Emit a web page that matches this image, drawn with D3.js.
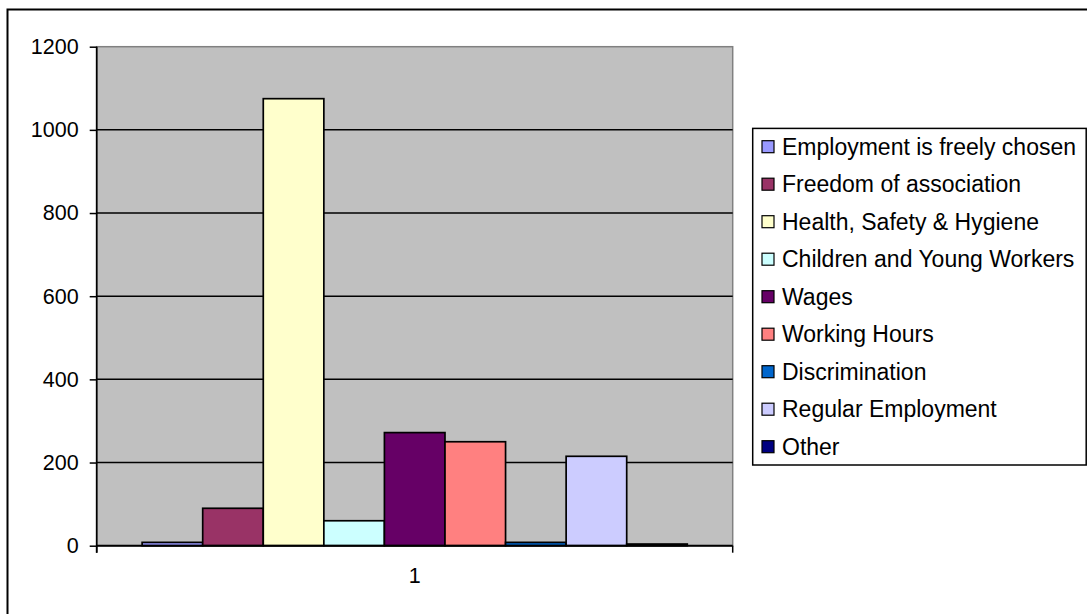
<!DOCTYPE html>
<html><head><meta charset="utf-8">
<script src="https://cdn.jsdelivr.net/npm/d3@7"></script>
<style>body{margin:0;background:#fff;} svg{display:block;font-family:"Liberation Sans",Arial,sans-serif;}</style>
</head><body>
<svg id="c" width="1087" height="614"></svg>
<script>
const categories = ["1"];
const seriesNames = ["Employment is freely chosen","Freedom of association","Health, Safety & Hygiene","Children and Young Workers","Wages","Working Hours","Discrimination","Regular Employment","Other"];
const seriesValues = [8, 90, 1075, 60, 272, 250, 8, 215, 4];
const seriesColors = ["#9999FF","#993366","#FFFFCC","#CCFFFF","#660066","#FF8080","#0066CC","#CCCCFF","#000080"];
const yTicks = [0, 200, 400, 600, 800, 1000, 1200];

const svg = d3.select("#c");
const L = 96.7, R = 732.7, T = 46.7, B = 545.7;

// outer frame
svg.append("rect").attr("x",7.5).attr("y",9.5).attr("width",1100).attr("height",640)
  .attr("fill","#fff").attr("stroke","#000").attr("stroke-width",2);

const y = d3.scaleLinear().domain([0,1200]).range([B,T]);
const x0 = d3.scaleBand().domain(categories).range([L,R]).paddingInner(0).paddingOuter(0);

// plot background
svg.append("rect").attr("x",L).attr("y",T).attr("width",R-L).attr("height",B-T)
  .attr("fill","#C0C0C0").attr("stroke","#808080").attr("stroke-width",1.5);

// gridlines
svg.append("g").selectAll("line").data(yTicks.filter(d=>d>0 && d<1200)).join("line")
  .attr("x1",L).attr("x2",R).attr("y1",d=>y(d)).attr("y2",d=>y(d))
  .attr("stroke","#000").attr("stroke-width",1.5);

// bars (gap width 150% of bar width)
categories.forEach(cat=>{
  const c0 = x0(cat), cw = x0.bandwidth();
  const bw = cw/10.5;
  const xs = d3.scaleBand().domain(seriesNames).range([c0+0.75*bw, c0+cw-0.75*bw]).padding(0);
  svg.append("g").selectAll("rect").data(seriesValues).join("rect")
    .attr("x",(d,i)=>xs(seriesNames[i]))
    .attr("y",d=>y(d))
    .attr("width",xs.bandwidth())
    .attr("height",d=>B-y(d))
    .attr("fill",(d,i)=>seriesColors[i])
    .attr("stroke","#000").attr("stroke-width",1.7);
});

// y axis
const yAxis = d3.axisLeft(y).tickValues(yTicks).tickSize(7).tickPadding(11).tickFormat(d3.format("d"));
const ga = svg.append("g").attr("transform",`translate(${L},0)`).call(yAxis);
ga.select(".domain").remove();
ga.selectAll("line").attr("stroke","#000").attr("stroke-width",1.5);
ga.selectAll("text").attr("font-size",21.5).attr("fill","#000").attr("font-family","Liberation Sans, Arial, sans-serif");
svg.append("line").attr("x1",L).attr("x2",L).attr("y1",T).attr("y2",B+7).attr("stroke","#000").attr("stroke-width",1.7);

// x axis
const xAxis = d3.axisBottom(x0).tickSize(0).tickPadding(22);
const gx = svg.append("g").attr("transform",`translate(0,${B})`).call(xAxis);
gx.select(".domain").remove();
gx.selectAll("text").attr("font-size",21.5).attr("fill","#000").attr("font-family","Liberation Sans, Arial, sans-serif");
svg.append("line").attr("x1",L).attr("x2",R).attr("y1",B).attr("y2",B).attr("stroke","#000").attr("stroke-width",2);
[L,R].forEach(xx=>svg.append("line").attr("x1",xx).attr("x2",xx).attr("y1",B).attr("y2",B+7).attr("stroke","#000").attr("stroke-width",1.5));

// legend
const lg = svg.append("g");
lg.append("rect").attr("x",752.7).attr("y",128.4).attr("width",333.5).attr("height",336.6)
  .attr("fill","#fff").attr("stroke","#000").attr("stroke-width",1.5);
const ly = d3.scalePoint().domain(seriesNames).range([146.7,446.7]);
const items = lg.selectAll("g.it").data(seriesNames).join("g").attr("class","it")
  .attr("transform",d=>`translate(0,${ly(d)})`);
items.append("rect").attr("x",762).attr("y",-6).attr("width",12).attr("height",12)
  .attr("fill",(d,i)=>seriesColors[i]).attr("stroke","#000").attr("stroke-width",1.2);
items.append("text").attr("x",782).attr("y",0).attr("dy","0.36em").attr("font-size",23)
  .attr("fill","#000").text(d=>d);
</script>
</body></html>
